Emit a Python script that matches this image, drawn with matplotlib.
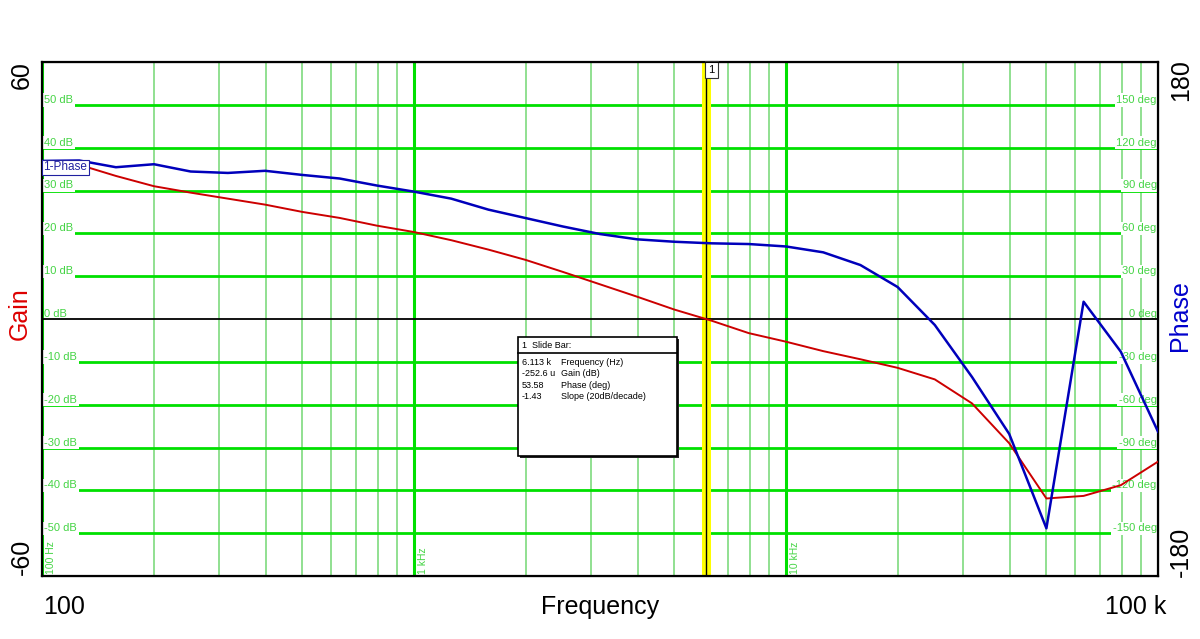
import numpy as np
import matplotlib.pyplot as plt
from matplotlib.ticker import NullLocator
from matplotlib.patches import Rectangle

plt.rcParams['font.family'] = ['Liberation Sans', 'DejaVu Sans']

# Bode data (10 points per decade)
freq = [100, 126, 158, 200, 251, 316, 398, 501, 631, 794,
        1000, 1259, 1585, 1995, 2512, 3162, 3981, 5012, 6310, 7943,
        10000, 12589, 15849, 19953, 25119, 31623, 39811, 50119, 63096, 79433,
        100000]
gain_db = [36.7, 36.0, 33.4, 31.0, 29.5, 28.1, 26.7, 25.0, 23.6, 21.8,
           20.3, 18.4, 16.2, 13.8, 11.0, 8.1, 5.2, 2.2, -0.4, -3.3,
           -5.3, -7.5, -9.4, -11.4, -14.1, -19.7, -29.0, -41.9, -41.3, -38.8,
           -33.3]
phase_deg = [110.7, 111.0, 106.3, 108.4, 103.3, 102.3, 103.8, 100.9, 98.4, 93.5,
             89.2, 84.3, 76.6, 70.7, 64.8, 59.5, 55.8, 54.1, 53.0, 52.5,
             50.8, 46.7, 37.8, 22.4, -4.2, -40.6, -80.5, -146.6, 12.1, -22.9,
             -78.9]

gain_ticks = [50, 40, 30, 20, 10, 0, -10, -20, -30, -40, -50]
phase_ticks = [150, 120, 90, 60, 30, 0, -30, -60, -90, -120, -150]
decade_lines = [100, 1000, 10000]
decade_labels = ["100 Hz", "1 kHz", "10 kHz"]

slide_freq = 6113
slide_rows = [("6.113 k", "Frequency (Hz)"),
              ("-252.6 u", "Gain (dB)"),
              ("53.58", "Phase (deg)"),
              ("-1.43", "Slope (20dB/decade)")]

GREEN = "#00e000"
LIGHT = "#90e090"
LABEL = "#44d444"

fig = plt.figure(figsize=(12, 6.39), dpi=100)
ax = fig.add_axes([42 / 1200, 1 - 576 / 639, 1116 / 1200, 514 / 639])
ax.set_xscale('log')
ax.set_xlim(100, 100000)
ax.set_ylim(-60, 60)
ax.xaxis.set_major_locator(NullLocator())
ax.xaxis.set_minor_locator(NullLocator())
ax.yaxis.set_major_locator(NullLocator())
for s in ax.spines.values():
    s.set_linewidth(1.6)

# vertical grid
for d in decade_lines:
    for m in range(2, 10):
        ax.axvline(d * m, color=LIGHT, lw=1.4, zorder=1)
    ax.axvline(d, color=GREEN, lw=2.2, zorder=1.2)

# horizontal grid
for g in gain_ticks:
    if g == 0:
        ax.axhline(0, color="black", lw=1.3, zorder=3)
    else:
        ax.axhline(g, color=GREEN, lw=2, zorder=1.2)

lbl_box = dict(boxstyle="square,pad=0.15", fc="white", ec="none")
for g in gain_ticks:
    ax.text(101.3, g, f"{g} dB", color=LABEL, fontsize=8, ha="left", va="bottom",
            bbox=None if g == 0 else lbl_box, zorder=2)
for g, p in zip(gain_ticks, phase_ticks):
    ax.text(99200, g, f"{p} deg", color=LABEL, fontsize=8, ha="right", va="bottom",
            bbox=None if p == 0 else lbl_box, zorder=2)
for d, t in zip(decade_lines, decade_labels):
    ax.text(d * 1.025, -59.5, t, color=LABEL, fontsize=7.5, rotation=90,
            ha="left", va="bottom", zorder=2)

# slide bar
ax.axvline(slide_freq, color="#ffff00", lw=6.5, zorder=2.5)
ax.axvline(slide_freq, color="black", lw=1.0, zorder=2.6)
ax.annotate("1", xy=(slide_freq, 1), xycoords=("data", "axes fraction"),
            xytext=(1.5, -2), textcoords="offset points", ha="left", va="top",
            fontsize=8, bbox=dict(boxstyle="square,pad=0.3", fc="white", ec="#333333", lw=0.8),
            zorder=6)

ax.plot(freq, gain_db, color="#cc0000", lw=1.4, zorder=4)

ax2 = ax.twinx()
ax2.set_ylim(-180, 180)
ax2.yaxis.set_major_locator(NullLocator())
ax2.plot(freq, phase_deg, color="#0000bb", lw=1.8, zorder=4)

# legend tag
ax2.text(0.0012, 0.795, "1-Phase", transform=ax2.transAxes, color="#2020a0", fontsize=8.5,
         ha="left", va="center", zorder=7,
         bbox=dict(boxstyle="square,pad=0.15", fc="white", ec="#2020a0", lw=0.8))

# slide bar info box
fx = lambda px: px / 1200
fy = lambda py: 1 - py / 639
bx0, bx1, by0, by1 = 518, 677, 337, 456
fig.patches.append(Rectangle((fx(bx0 + 2), fy(by1 + 2)), fx(bx1 - bx0), fy(by0) - fy(by1),
                             transform=fig.transFigure, fc="#222222", ec="none", zorder=8))
fig.patches.append(Rectangle((fx(bx0), fy(by1)), fx(bx1 - bx0), fy(by0) - fy(by1),
                             transform=fig.transFigure, fc="white", ec="black", lw=1.2, zorder=9))
fig.lines.append(plt.Line2D([fx(bx0), fx(bx1)], [fy(352.5), fy(352.5)],
                            transform=fig.transFigure, color="black", lw=1.2, zorder=10))
fig.text(fx(522), fy(345), "1  Slide Bar:", fontsize=6.5, va="center", zorder=11)
for i, (v, n) in enumerate(slide_rows):
    yy = fy(362.5 + i * 11.3)
    fig.text(fx(522), yy, v, fontsize=6.5, va="center", zorder=11)
    fig.text(fx(561), yy, n, fontsize=6.5, va="center", zorder=11)

# outer labels
big = 18
fig.text(fx(22), fy(75), "60", fontsize=big, rotation=90, ha="center", va="center")
fig.text(fx(22), fy(557), "-60", fontsize=big, rotation=90, ha="center", va="center")
fig.text(fx(20), fy(314), "Gain", fontsize=big, rotation=90, ha="center", va="center", color="#dd0000")
fig.text(fx(1181), fy(80), "180", fontsize=big, rotation=90, ha="center", va="center")
fig.text(fx(1181), fy(552), "-180", fontsize=big, rotation=90, ha="center", va="center")
fig.text(fx(1180), fy(316), "Phase", fontsize=big, rotation=90, ha="center", va="center", color="#0000cc")
fig.text(fx(43), fy(607), "100", fontsize=big, ha="left", va="center")
fig.text(fx(600), fy(607), "Frequency", fontsize=big, ha="center", va="center")
fig.text(fx(1166), fy(607), "100 k", fontsize=big, ha="right", va="center")

fig.savefig("out.png", dpi=100)
